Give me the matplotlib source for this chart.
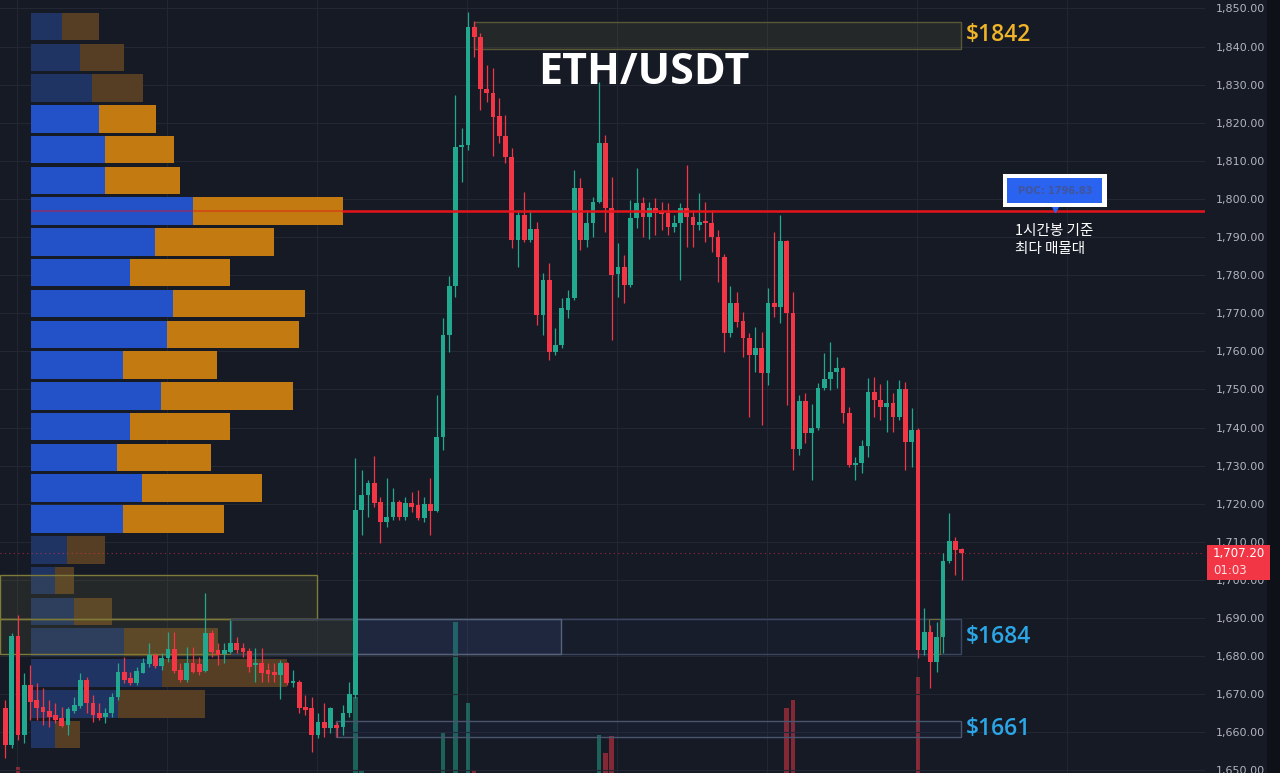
import matplotlib
matplotlib.use("Agg")
import matplotlib.pyplot as plt
from matplotlib.patches import Rectangle
from matplotlib.ticker import FuncFormatter
import numpy as np

W, H = 1280, 773
BG = "#161a25"
UP = "#22a88f"
DOWN = "#f23645"

# ---- 1h candles, ETH/USDT ----
opens = [
    1666.4, 1656.7, 1685.3, 1659.3, 1672.4, 1668.5, 1666.7, 1665.6, 1664.6, 1663.8,
    1661.9, 1665.6, 1666.9, 1673.8, 1667.7, 1665.1, 1664.0, 1665.1, 1669.3, 1675.8,
    1674.3, 1673.0, 1675.6, 1677.9, 1680.3, 1677.4, 1679.5, 1681.9, 1676.4, 1673.8,
    1678.2, 1677.9, 1676.1, 1686.1, 1681.6, 1680.6, 1681.1, 1683.5, 1682.1, 1681.3,
    1677.7, 1678.2, 1676.4, 1675.8, 1675.1, 1678.2, 1673.0, 1673.2, 1666.7, 1666.4,
    1659.3, 1662.7, 1661.1, 1661.9, 1661.4, 1665.1, 1669.8, 1718.4, 1722.3, 1725.5,
    1720.5, 1715.2, 1716.5, 1720.5, 1716.5, 1720.2, 1719.7, 1716.3, 1719.9, 1718.1,
    1737.5, 1764.3, 1777.2, 1813.6, 1814.1, 1845.1, 1842.5, 1828.9, 1827.8, 1821.8,
    1816.5, 1811.0, 1789.2, 1795.8, 1789.2, 1792.1, 1769.6, 1778.7, 1759.8, 1761.7,
    1770.9, 1774.0, 1802.9, 1789.2, 1793.7, 1799.2, 1814.7, 1797.6, 1780.3, 1782.1,
    1777.4, 1795.0, 1798.9, 1795.3, 1797.6, 1796.6, 1796.3, 1792.6, 1793.7, 1797.6,
    1795.3, 1793.2, 1794.0, 1793.7, 1790.0, 1784.8, 1764.8, 1772.7, 1768.0, 1763.5,
    1759.1, 1760.9, 1754.3, 1772.7, 1771.6, 1788.9, 1770.1, 1734.4, 1747.0, 1738.6,
    1739.9, 1750.4, 1752.8, 1754.6, 1755.6, 1743.8, 1730.2, 1730.7, 1735.2, 1749.3,
    1747.2, 1745.4, 1746.5, 1742.8, 1750.1, 1736.2, 1739.4, 1681.6, 1686.3, 1678.5,
    1685.0, 1705.0, 1710.2, 1708.1,
]
highs = [
    1668.5, 1686.1, 1690.8, 1675.6, 1677.7, 1673.0, 1671.7, 1668.5, 1667.7, 1666.7,
    1666.7, 1669.3, 1675.6, 1674.5, 1669.8, 1667.7, 1666.4, 1670.3, 1678.2, 1679.8,
    1675.8, 1677.2, 1679.5, 1683.5, 1680.8, 1680.8, 1686.3, 1686.3, 1678.2, 1682.4,
    1682.4, 1679.8, 1696.6, 1686.9, 1683.5, 1683.5, 1689.5, 1685.0, 1683.5, 1682.1,
    1682.1, 1682.1, 1678.2, 1678.2, 1679.0, 1678.5, 1676.4, 1673.8, 1669.8, 1669.3,
    1665.1, 1667.7, 1666.7, 1662.7, 1667.2, 1673.2, 1732.0, 1728.9, 1726.2, 1732.5,
    1721.8, 1726.8, 1724.1, 1721.0, 1721.8, 1723.1, 1723.6, 1721.8, 1726.8, 1748.6,
    1768.8, 1779.8, 1827.3, 1818.6, 1849.1, 1846.7, 1843.6, 1835.2, 1834.4, 1826.5,
    1822.0, 1813.4, 1797.1, 1801.8, 1797.1, 1794.0, 1780.6, 1783.2, 1766.1, 1774.0,
    1776.1, 1807.6, 1805.5, 1797.1, 1800.5, 1830.7, 1816.8, 1805.8, 1788.4, 1785.3,
    1799.7, 1808.1, 1800.5, 1799.2, 1800.3, 1799.2, 1798.9, 1795.8, 1798.9, 1808.9,
    1797.1, 1801.6, 1799.2, 1797.1, 1791.9, 1785.6, 1777.2, 1775.6, 1770.3, 1764.8,
    1766.4, 1765.1, 1776.6, 1791.3, 1795.8, 1789.2, 1775.6, 1748.6, 1749.1, 1746.2,
    1751.7, 1759.6, 1762.5, 1758.5, 1755.9, 1745.4, 1732.3, 1736.7, 1753.0, 1753.3,
    1751.4, 1752.5, 1749.1, 1752.5, 1752.0, 1745.1, 1739.9, 1692.6, 1688.2, 1689.0,
    1707.1, 1717.6, 1711.3, 1708.4,
]
lows = [
    1653.3, 1655.9, 1658.0, 1657.2, 1663.2, 1663.2, 1661.9, 1661.4, 1662.5, 1661.4,
    1659.3, 1665.1, 1666.4, 1665.1, 1662.7, 1663.2, 1662.5, 1664.0, 1668.5, 1673.0,
    1672.4, 1672.4, 1675.6, 1677.2, 1676.9, 1676.4, 1678.5, 1675.6, 1673.2, 1673.2,
    1675.6, 1675.1, 1675.8, 1679.8, 1677.7, 1678.2, 1680.8, 1680.8, 1679.8, 1675.8,
    1673.2, 1673.2, 1673.2, 1673.2, 1668.8, 1672.4, 1671.9, 1665.1, 1664.6, 1654.8,
    1658.5, 1658.8, 1659.8, 1658.8, 1659.3, 1664.0, 1669.0, 1711.8, 1716.5, 1719.1,
    1709.7, 1713.9, 1715.7, 1715.7, 1715.7, 1717.9, 1715.7, 1715.2, 1711.8, 1717.9,
    1734.1, 1759.8, 1774.3, 1804.5, 1812.9, 1837.3, 1823.4, 1825.5, 1811.3, 1814.7,
    1809.5, 1787.1, 1782.1, 1788.7, 1788.7, 1766.9, 1764.3, 1757.7, 1759.1, 1760.9,
    1768.8, 1773.5, 1786.6, 1787.4, 1790.0, 1798.9, 1791.3, 1763.0, 1774.3, 1772.7,
    1776.9, 1792.4, 1790.0, 1789.5, 1790.6, 1791.9, 1790.6, 1791.3, 1778.7, 1787.4,
    1787.4, 1791.9, 1788.7, 1786.1, 1778.2, 1759.8, 1763.8, 1766.4, 1758.5, 1742.8,
    1754.6, 1740.7, 1751.2, 1769.0, 1767.4, 1745.9, 1728.9, 1732.8, 1735.9, 1726.2,
    1739.4, 1749.9, 1749.9, 1750.4, 1741.2, 1729.7, 1726.2, 1728.1, 1732.3, 1742.8,
    1742.0, 1738.8, 1738.8, 1742.0, 1728.9, 1729.7, 1679.5, 1680.3, 1671.7, 1675.8,
    1680.8, 1704.5, 1701.3, 1700.0,
]
closes = [
    1656.7, 1685.3, 1659.3, 1672.4, 1668.0, 1666.4, 1665.3, 1664.0, 1663.2, 1661.7,
    1666.1, 1667.2, 1673.8, 1667.7, 1664.6, 1663.8, 1665.1, 1669.3, 1675.8, 1673.8,
    1673.0, 1676.1, 1678.2, 1680.3, 1677.4, 1679.5, 1681.9, 1676.1, 1673.8, 1678.2,
    1675.8, 1675.8, 1686.1, 1681.1, 1680.3, 1681.6, 1683.5, 1681.6, 1681.1, 1677.2,
    1678.2, 1675.6, 1675.3, 1675.1, 1678.2, 1673.0, 1673.2, 1666.4, 1665.9, 1659.3,
    1662.7, 1661.1, 1666.4, 1661.1, 1665.1, 1670.1, 1718.4, 1722.3, 1725.5, 1720.2,
    1715.2, 1716.5, 1720.5, 1716.5, 1720.2, 1719.1, 1716.3, 1719.9, 1718.1, 1737.5,
    1764.3, 1777.2, 1813.6, 1814.1, 1845.1, 1842.5, 1828.9, 1827.8, 1821.5, 1816.5,
    1811.0, 1789.2, 1795.8, 1789.2, 1792.1, 1769.6, 1778.7, 1759.8, 1761.7, 1771.4,
    1774.0, 1802.9, 1789.2, 1793.7, 1799.2, 1814.7, 1797.6, 1780.1, 1782.1, 1777.4,
    1795.0, 1798.9, 1795.3, 1797.6, 1796.3, 1796.1, 1792.6, 1793.7, 1797.6, 1795.3,
    1793.2, 1794.0, 1793.7, 1790.0, 1784.8, 1764.8, 1772.7, 1767.7, 1763.5, 1759.1,
    1760.9, 1754.3, 1772.7, 1771.6, 1788.9, 1770.1, 1734.4, 1747.0, 1738.6, 1739.9,
    1750.4, 1752.8, 1754.6, 1755.6, 1743.8, 1730.2, 1730.7, 1735.2, 1749.3, 1747.2,
    1745.4, 1746.5, 1742.8, 1750.1, 1736.2, 1739.4, 1681.6, 1686.3, 1678.5, 1685.0,
    1705.0, 1710.2, 1707.9, 1707.2,
]

# visible volume bars (candle index, volume)
vol_idx = [2, 56, 57, 70, 72, 74, 75, 95, 96, 97, 125, 126, 146]
vol_vals = [6, 76, 3, 41, 151, 70, 3, 38, 20, 37, 65, 73, 96]

# volume profile (1h), row price centre, buy / sell volume
vp_price = [1845.3, 1837.2, 1829.1, 1821.0, 1813.0, 1804.9, 1796.8, 1788.7,
            1780.7, 1772.6, 1764.5, 1756.4, 1748.3, 1740.3, 1732.2, 1724.1,
            1716.0, 1707.9, 1699.9, 1691.8, 1683.7, 1675.6, 1667.5, 1659.5]
vp_buy = [31, 49, 61, 68, 74, 74, 162, 124, 99, 142, 136, 92,
          130, 99, 86, 111, 92, 36, 24, 43, 93, 131, 87, 24]
vp_sell = [37, 44, 51, 57, 69, 75, 150, 119, 100, 132, 132, 94,
           132, 100, 94, 120, 101, 38, 19, 38, 94, 125, 87, 25]
value_area = (3, 16)  # rows inside value area

poc = 1796.83
last_price = 1707.20
levels = [("$1842", 1846.5, 1839.4), ("$1684", 1689.7, 1680.5), ("$1661", 1663.1, 1658.9)]

x = np.arange(len(opens))
o, h, l, c = map(np.array, (opens, highs, lows, closes))
up = c >= o
col = np.where(up, UP, DOWN)

fig = plt.figure(figsize=(W / 100, H / 100), dpi=100, facecolor=BG)
ax = fig.add_axes([0, 0, 1205 / W, 1])
ax_vp = ax.twiny()    # volume profile, below candles
ax_vol = ax.twinx()   # volume bars + vertical grid, bottom layer
ax_vol.set_zorder(0)
ax_vp.set_zorder(1)
ax.set_zorder(2)
for a in (ax, ax_vp, ax_vol):
    a.patch.set_visible(False)
    for s in a.spines.values():
        s.set_visible(False)

ax.set_xlim(-0.872, 191.93)
ax.set_ylim(1649.34, 1852.23)

# grid
for yy in range(1650, 1851, 10):
    ax_vp.axhline(yy, color="#232734", lw=0.8, zorder=0)
for xx in [1.85, 25.85, 49.85, 73.85, 97.85, 121.85, 145.85, 169.85]:
    ax_vol.axvline(xx, color="#222633", lw=0.8, zorder=0)

# volume profile
ax_vp.set_xlim(-31, 1174)
ax_vp.set_xticks([])
for i, p in enumerate(vp_price):
    inside = value_area[0] <= i <= value_area[1]
    cb = "#2352c8" if inside else "#203463"
    cs = "#c37a10" if inside else "#553e24"
    ax_vp.barh(p, vp_buy[i], height=7.2, left=0, color=cb, zorder=2)
    ax_vp.barh(p, vp_sell[i], height=7.2, left=vp_buy[i], color=cs, zorder=2)
# POC line, faint where it crosses the profile row
ax_vp.hlines(poc, 0, vp_buy[6] + vp_sell[6], color="#e5141b", lw=1.3, alpha=0.45, zorder=3)

# volume bars
ax_vol.set_ylim(0, 773)
ax_vol.set_yticks([])
vcol = [UP if up[k] else DOWN for k in vol_idx]
ax_vol.bar(vol_idx, vol_vals, width=0.72, color=vcol, alpha=0.5, zorder=1)

# zones
ax.add_patch(Rectangle((75.0, levels[0][2]), 77.9, levels[0][1] - levels[0][2],
                       fc=(0.6, 0.58, 0.25, 0.12), ec="#5a5838", lw=1, zorder=1))
ax.add_patch(Rectangle((-0.9, 1689.7), 50.75, 1701.3 - 1689.7,
                       fc=(0.6, 0.58, 0.25, 0.12), ec="#7d7a3a", lw=1, zorder=1))
ax.add_patch(Rectangle((-0.9, 1680.5), 56.8, 1689.7 - 1680.5,
                       fc=(0.6, 0.58, 0.25, 0.12), ec="#7d7a3a", lw=1, zorder=1))
ax.add_patch(Rectangle((36.1, 1680.5), 116.8, 1689.7 - 1680.5,
                       fc=(0.25, 0.4, 0.7, 0.05), ec="#3b4660", lw=1, zorder=1))
ax.add_patch(Rectangle((55.9, 1680.5), 33.0, 1689.7 - 1680.5,
                       fc=(0.3, 0.45, 0.75, 0.12), ec="#56637a", lw=1, zorder=1))
ax.add_patch(Rectangle((52.9, levels[2][2]), 100.0, levels[2][1] - levels[2][2],
                       fc=(0.25, 0.4, 0.7, 0.06), ec="#4a566e", lw=1, zorder=1))
ax.add_patch(Rectangle((147.8, 1680.5), 1.7, 1689.7 - 1680.5,
                       fc="none", ec="#6e6a3a", lw=0.8, zorder=1))

# candles
ax.vlines(x, l, h, colors=col, lw=0.9, zorder=3)
body = np.maximum(np.abs(c - o), 0.4)
ax.bar(x, body, bottom=np.minimum(o, c), width=0.74, color=col, zorder=4)

# POC line and last price line
ax.hlines(poc, 53.9, 191.93, color="#e5141b", lw=1.8, zorder=5)
ax.axhline(last_price, color=DOWN, lw=0.8, ls=(0, (1, 3)), alpha=0.6, zorder=2)

# level labels
ax.text(153.7, 1843.0, levels[0][0], color="#f0b429", fontsize=16.5,
        family="Open Sans", weight="semibold", va="center", zorder=6)
for name, top, bot in levels[1:]:
    ax.text(153.7, (top + bot) / 2, name, color="#2ba6e6", fontsize=16.5,
            family="Open Sans", weight="semibold", va="center", zorder=6)

# right price axis
ax.yaxis.tick_right()
ax.set_yticks(range(1650, 1851, 10))
ax.yaxis.set_major_formatter(FuncFormatter(lambda v, _: f"{v:,.2f}"))
ax.tick_params(axis="y", length=0, pad=8, labelsize=8, labelcolor="#b2b5be")
ax.set_xticks([])


def fig_rect(x0, y0, x1, y1, **kw):
    fig.add_artist(Rectangle((x0 / W, 1 - y1 / H), (x1 - x0) / W, (y1 - y0) / H,
                             transform=fig.transFigure, **kw))


def fig_text(px, py, s, **kw):
    fig.text(px / W, 1 - py / H, s, **kw)


fig_rect(1267, 0, 1280, 773, fc="#0f1118", ec="none", zorder=9)

# last price tag
fig_rect(1207, 545, 1270, 580, fc=DOWN, ec="none", zorder=10)
fig_text(1213, 554, "1,707.20", color="white", fontsize=8.5, va="center", zorder=11)
fig_text(1213, 571, "01:03", color="#ffe0e3", fontsize=8.5, va="center", zorder=11)

# POC callout
fig_rect(1003, 174, 1107, 207, fc="white", ec="none", zorder=10)
fig_rect(1007, 178, 1102, 203, fc="#2a63f0", ec="none", zorder=11)
fig_text(1055, 190.5, "POC: 1796.83", color="#42559a", fontsize=7, weight="bold",
         ha="center", va="center", zorder=12)
ax.plot([167.9], [poc + 0.9], marker="v", ms=6, color="#2a63f0", zorder=6, clip_on=False)
fig_text(1015, 240, "1시간봉 기준\n최다 매물대", color="white", fontsize=10.5,
         family=["Noto Sans CJK KR", "DejaVu Sans"], weight="medium", va="center",
         linespacing=1.3, zorder=12)

# title
fig_text(644, 72, "ETH/USDT", color="white", fontsize=31, family="Open Sans",
         weight="bold", ha="center", va="center", zorder=12)

fig.savefig("out.png", dpi=100, facecolor=BG)
